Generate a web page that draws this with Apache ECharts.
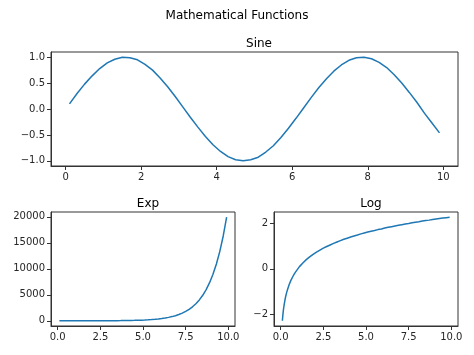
<!DOCTYPE html>
<html>
<head>
<meta charset="utf-8">
<script src="https://cdn.jsdelivr.net/npm/echarts@6/dist/echarts.min.js"></script>
<style>
  html, body { margin: 0; padding: 0; background: #fff; }
  #chart { width: 474px; height: 355px; }
</style>
</head>
<body>
<div id="chart"></div>
<script>
// x samples for sine and exp panels
const xs = [0.1, 0.3, 0.5, 0.7, 0.9, 1.1, 1.3, 1.5, 1.7, 1.9, 2.1, 2.3, 2.5, 2.7, 2.9, 3.1, 3.3, 3.5, 3.7, 3.9,
  4.1, 4.3, 4.5, 4.7, 4.9, 5.1, 5.3, 5.5, 5.7, 5.9, 6.1, 6.3, 6.5, 6.7, 6.9, 7.1, 7.3, 7.5, 7.7, 7.9,
  8.1, 8.3, 8.5, 8.7, 8.9, 9.1, 9.3, 9.5, 9.7, 9.9]

const sineVals = [0.10, 0.30, 0.48, 0.64, 0.78, 0.89, 0.96, 1.00, 0.99, 0.95, 0.86, 0.75, 0.60, 0.43, 0.24, 0.04,
  -0.16, -0.35, -0.53, -0.69, -0.82, -0.92, -0.98, -1.00, -0.98, -0.93, -0.83, -0.71, -0.55, -0.37, -0.18, 0.02,
  0.22, 0.41, 0.58, 0.73, 0.85, 0.94, 0.99, 1.00, 0.97, 0.90, 0.80, 0.66, 0.50, 0.32, 0.13, -0.08, -0.27, -0.46]

const expVals = [1.1, 1.35, 1.65, 2.0, 2.5, 3.0, 3.7, 4.5, 5.5, 6.7, 8.2, 10, 12, 15, 18, 22, 27, 33, 40, 49,
  60, 74, 90, 110, 134, 164, 200, 245, 299, 365, 446, 545, 665, 812, 992, 1212, 1480, 1808, 2208, 2697,
  3294, 4024, 4915, 6003, 7332, 8955, 10938, 13360, 16318, 19930]

// log panel is steep near 0, so it is sampled more densely there
const logXs = [0.1, 0.13, 0.16, 0.2, 0.25, 0.3, 0.35, 0.4, 0.5, 0.6, 0.7, 0.8, 0.9, 1.1, 1.3, 1.5, 1.7, 1.9, 2.1,
  2.3, 2.5, 2.7, 2.9, 3.1, 3.3, 3.5, 3.7, 3.9, 4.1, 4.3, 4.5, 4.7, 4.9, 5.1, 5.3, 5.5, 5.7, 5.9, 6.1, 6.3, 6.5,
  6.7, 6.9, 7.1, 7.3, 7.5, 7.7, 7.9, 8.1, 8.3, 8.5, 8.7, 8.9, 9.1, 9.3, 9.5, 9.7, 9.9]

const logVals = [-2.30, -2.04, -1.83, -1.61, -1.39, -1.20, -1.05, -0.92, -0.69, -0.51, -0.36, -0.22, -0.11, 0.10,
  0.26, 0.41, 0.53, 0.64, 0.74, 0.83, 0.92, 0.99, 1.06, 1.13, 1.19, 1.25, 1.31, 1.36, 1.41, 1.46, 1.50, 1.55,
  1.59, 1.63, 1.67, 1.70, 1.74, 1.77, 1.81, 1.84, 1.87, 1.90, 1.93, 1.96, 1.99, 2.01, 2.04, 2.07, 2.09, 2.12,
  2.14, 2.16, 2.19, 2.21, 2.23, 2.25, 2.27, 2.29]

// tick labels
const sineXTicks = [0, 2, 4, 6, 8, 10]
const sineYTicks = [-1.0, -0.5, 0.0, 0.5, 1.0]
const smallXTicks = [0, 2.5, 5, 7.5, 10]
const expYTicks = [0, 5000, 10000, 15000, 20000]
const logYTicks = [-2, 0, 2]

const FONT = 'DejaVu Sans'
const TXT = '#262626'
const minus = s => String(s).replace('-', '\u2212')

function axis (gridIndex, min, max, ticks, fmt) {
  return {
    type: 'value',
    gridIndex: gridIndex,
    min: min,
    max: max,
    axisLine: { show: true, onZero: false, lineStyle: { color: '#333', width: 1 } },
    splitLine: { show: false },
    axisTick: { show: true, customValues: ticks, length: 4, lineStyle: { color: '#333', width: 1 } },
    axisLabel: {
      customValues: ticks,
      color: TXT,
      fontFamily: FONT,
      fontSize: 10,
      margin: 6,
      formatter: v => minus(fmt(v))
    }
  }
}

const lineStyle = { color: '#1f77b4', width: 1.5 }
const titleText = { fontFamily: FONT, fontSize: 12, fontWeight: 'normal', color: '#000' }

const option = {
  animation: false,
  title: [
    { text: 'Mathematical Functions', left: 'center', top: 5, textStyle: titleText },
    { text: 'Sine', left: 254, top: 33, textAlign: 'center', textStyle: titleText },
    { text: 'Exp', left: 143, top: 193, textAlign: 'center', textStyle: titleText },
    { text: 'Log', left: 366, top: 193, textAlign: 'center', textStyle: titleText }
  ],
  grid: [
    { left: 51, top: 52, width: 407, height: 114, show: true, borderColor: '#333', borderWidth: 1, backgroundColor: '#fff' },
    { left: 51, top: 212, width: 184, height: 114, show: true, borderColor: '#333', borderWidth: 1, backgroundColor: '#fff' },
    { left: 274, top: 212, width: 184, height: 114, show: true, borderColor: '#333', borderWidth: 1, backgroundColor: '#fff' }
  ],
  xAxis: [
    axis(0, -0.39, 10.39, sineXTicks, v => String(v)),
    axis(1, -0.39, 10.39, smallXTicks, v => v.toFixed(1)),
    axis(2, -0.39, 10.39, smallXTicks, v => v.toFixed(1))
  ],
  yAxis: [
    axis(0, -1.1, 1.1, sineYTicks, v => v.toFixed(1)),
    axis(1, -995, 20926, expYTicks, v => String(v)),
    axis(2, -2.53, 2.52, logYTicks, v => String(v))
  ],
  series: [
    { type: 'line', xAxisIndex: 0, yAxisIndex: 0, showSymbol: false, lineStyle: lineStyle, data: xs.map((x, i) => [x, sineVals[i]]) },
    { type: 'line', xAxisIndex: 1, yAxisIndex: 1, showSymbol: false, lineStyle: lineStyle, data: xs.map((x, i) => [x, expVals[i]]) },
    { type: 'line', xAxisIndex: 2, yAxisIndex: 2, showSymbol: false, lineStyle: lineStyle, data: logXs.map((x, i) => [x, logVals[i]]) }
  ]
}

const chart = echarts.init(document.getElementById('chart'), null, { renderer: 'canvas' })
chart.setOption(option)
</script>
</body>
</html>
